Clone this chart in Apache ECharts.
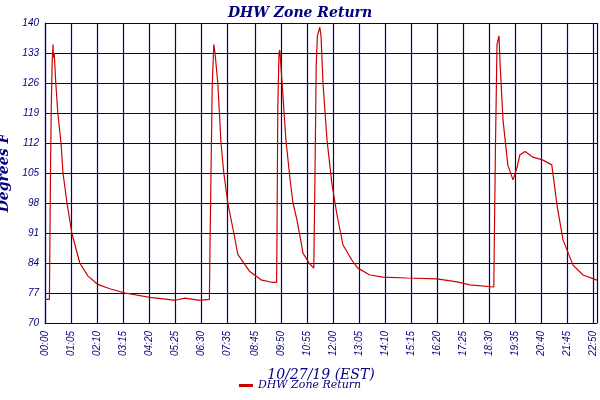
<!DOCTYPE html>
<html><head><meta charset="utf-8">
<script src="https://cdn.jsdelivr.net/npm/echarts@6/dist/echarts.min.js"></script>
<style>html,body{margin:0;padding:0;background:#fff}#c{width:600px;height:400px}</style>
</head><body><div id="c"></div>
<script>
const tickMinutes = [0,65,130,195,260,325,390,455,525,590,655,720,785,850,915,980,1045,1110,1175,1240,1305,1370,1380];
const tickLabels = ['00:00','01:05','02:10','03:15','04:20','05:25','06:30','07:35','08:45','09:50','10:55','12:00','13:05','14:10','15:15','16:20','17:25','18:30','19:35','20:40','21:45','22:50','23:00'];
const times = [0,11,12,14,16,18,20,21,23,27,32,40,45,55,67,87,107,132,162,200,262,307,325,350,387,411,
  412,415,418,422,425,432,436,440,447,457,472,482,512,542,567,579,
  580,582,585,587,592,597,602,612,620,630,637,645,660,672,674,
  675,678,681,687,690,695,705,717,730,745,767,782,812,845,905,980,1030,1062,1122,1124,
  1126,1130,1135,1138,1145,1157,1170,1180,1187,1200,1220,1245,1267,1280,1295,1320,1345,1380];
const temps = [75.5,75.5,86,108,122,131,135,132,133,126,119,112,105,98,91,84,81,79,78,77,76,75.5,75.3,75.8,75.3,75.5,
  84,105,125,135,133,126,119,112,105,98,91,86,82,80,79.5,79.5,
  90,120,133,133.7,127,120,113,104,98,94,90.5,86.3,84,82.8,83,
  105,130,137,139,137,126,112.7,102.7,95.2,88.2,84.7,82.8,81.2,80.7,80.5,80.3,79.6,78.9,78.4,78.4,
  110,135,137,130,117.4,106.9,103.4,106.2,109.2,110,108.7,108,106.9,97.5,89.4,83.5,81.2,80];
const navy = '#00007f';
const chart = echarts.init(document.getElementById('c'));
chart.setOption({
  animation:false,
  title:{text:'DHW Zone Return',left:'center',top:1,textStyle:{fontFamily:'DejaVu Serif',fontStyle:'italic',fontWeight:'bold',fontSize:14,color:navy}},
  grid:{left:45,right:3,top:23,bottom:77,outerBoundsMode:'none',containLabel:false},
  legend:{bottom:4,left:'center',data:['DHW Zone Return'],icon:'rect',itemWidth:14,itemHeight:3,
    textStyle:{fontFamily:'DejaVu Serif',fontStyle:'italic',fontSize:11,color:navy}},
  xAxis:{type:'value',min:0,max:1380,name:'10/27/19 (EST)',nameLocation:'middle',nameGap:45,
    nameTextStyle:{fontFamily:'DejaVu Serif',fontStyle:'italic',fontSize:14,color:navy},
    axisLine:{lineStyle:{color:navy,width:1.2}},
    axisTick:{show:false,customValues:tickMinutes},
    axisLabel:{customValues:tickMinutes,rotate:90,fontSize:10,fontStyle:'italic',color:navy,fontFamily:'Liberation Sans',hideOverlap:false,
      formatter:v=>tickLabels[tickMinutes.indexOf(v)]},
    splitLine:{show:true,lineStyle:{color:navy,width:1.2}}},
  yAxis:{type:'value',min:70,max:140,interval:7,name:'Degrees F',nameLocation:'middle',nameGap:27,
    nameTextStyle:{fontFamily:'DejaVu Serif',fontStyle:'italic',fontWeight:'bold',fontSize:14,color:navy},
    axisLine:{show:true,lineStyle:{color:navy,width:1.2}},axisTick:{show:false},
    axisLabel:{fontSize:10,fontStyle:'italic',color:navy,fontFamily:'Liberation Sans',margin:6},
    splitLine:{show:true,lineStyle:{color:navy,width:1.2}}},
  series:[{name:'DHW Zone Return',type:'line',showSymbol:false,data:times.map((t,i)=>[t,temps[i]]),
    lineStyle:{color:'#cc0000',width:1.2},itemStyle:{color:'#cc0000'}}]
});
</script></body></html>
